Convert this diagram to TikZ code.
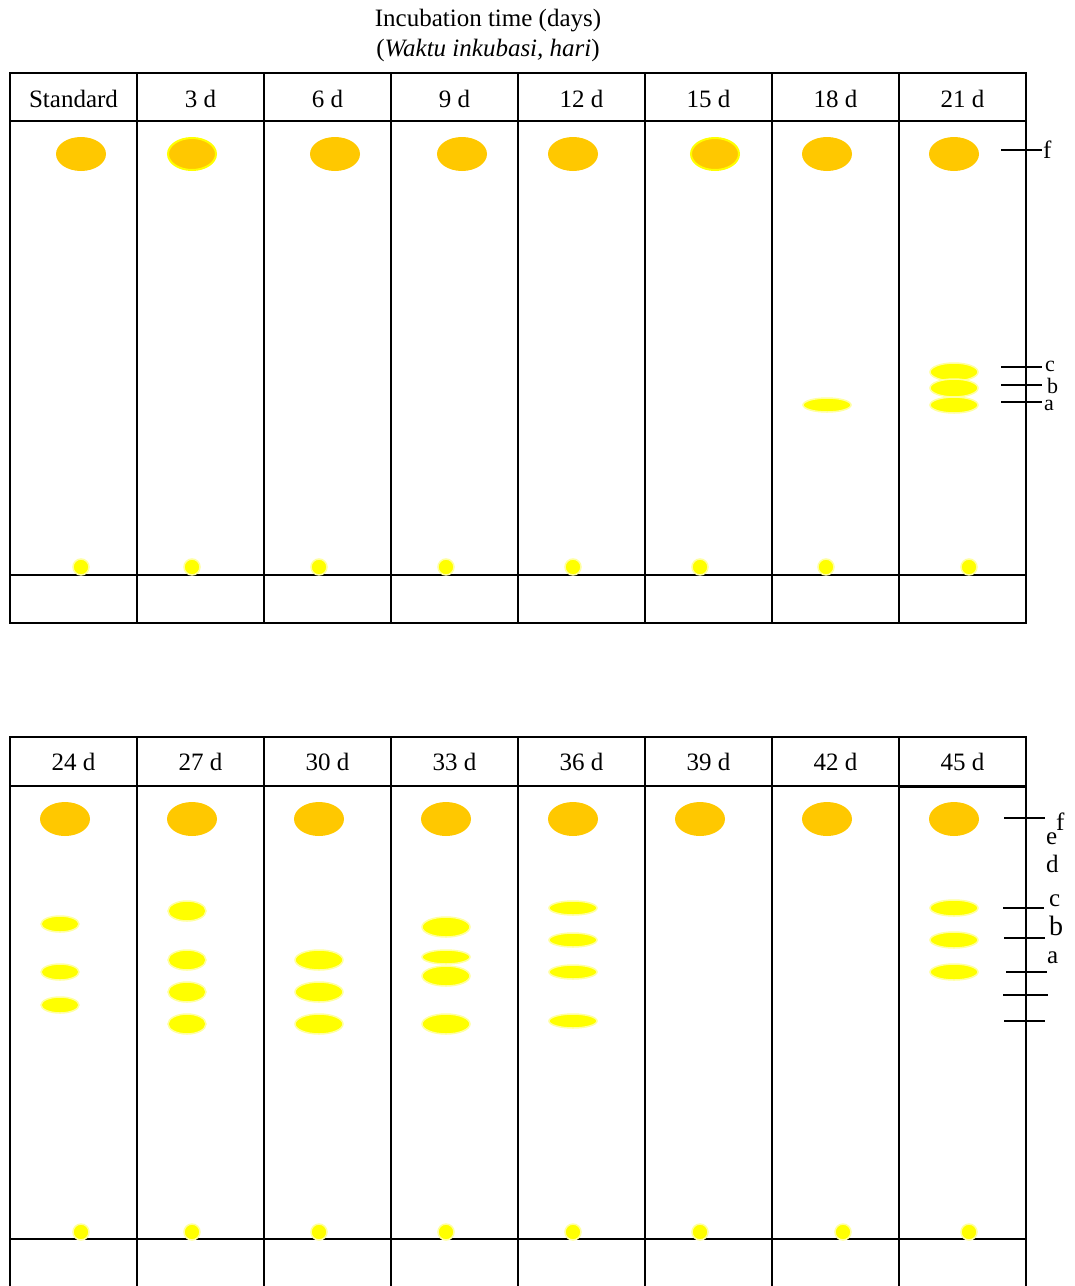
\documentclass[tikz,border=0pt]{standalone}
\usepackage{fontspec}
\setmainfont{Liberation Serif}
\usetikzlibrary{positioning}
\definecolor{spotorange}{RGB}{255,200,0}
\definecolor{spotyellow}{RGB}{255,255,0}
\definecolor{paleyellow}{RGB}{255,255,160}
\begin{document}
\begin{tikzpicture}[x=1pt,y=-1pt,font=\fontsize{25}{30}\selectfont]
\tikzstyle{grid}=[draw=black,line width=2pt]
\tikzstyle{hdr}=[inner sep=0pt,anchor=base]
\tikzstyle{rf}=[fill=spotorange]
\tikzstyle{rfrim}=[fill=spotorange,draw=spotyellow,line width=2pt]
\tikzstyle{band}=[fill=spotyellow,draw=paleyellow,line width=1.5pt]
\tikzstyle{dot}=[fill=spotyellow,draw=paleyellow,line width=1.5pt]
\tikzstyle{tick}=[line width=1.5pt]
\tikzstyle{lbl}=[inner sep=0pt,anchor=base west]
\tikzstyle{small lbl}=[lbl,font=\fontsize{22}{22}\selectfont]
\useasboundingbox (0,0) rectangle (1075,1286);

% title
\node[inner sep=0pt,align=center] (title) at (488,35) {Incubation time (days)\\(\textit{Waktu inkubasi, hari})};

% upper plate
\draw[grid] (10,73) rectangle (1026,623);
\draw[grid] (10,121) -- (1026,121);
\draw[grid] (10,575) -- (1026,575);
\foreach \i in {1,...,7} \draw[grid] (10+127*\i,73) -- (10+127*\i,623);
\foreach \i/\lab in {0/Standard,1/3 d,2/6 d,3/9 d,4/12 d,5/15 d,6/18 d,7/21 d}
  \node[hdr] (u\i) at (73.5+127*\i,107) {\lab};

% lower plate
\draw[grid] (10,1286) -- (10,737) -- (1026,737) -- (1026,1286);
\draw[grid] (10,786) -- (1026,786);
\draw[line width=3pt] (899,786) -- (1026,786);
\draw[grid] (10,1239) -- (1026,1239);
\foreach \i in {1,...,7} \draw[grid] (10+127*\i,737) -- (10+127*\i,1286);
\foreach \i/\lab in {0/24 d,1/27 d,2/30 d,3/33 d,4/36 d,5/39 d,6/42 d,7/45 d}
  \node[hdr] (l\i) at (73.5+127*\i,770) {\lab};

% solvent front spots, upper
\foreach \x in {81,335,462,573,827,954} \path[rf] (\x,154) ellipse [x radius=25,y radius=17];
\foreach \x in {192,715} \path[rfrim] (\x,154) ellipse [x radius=24,y radius=16];
% origin, upper
\foreach \x in {81,192,319,446,573,700,826,969} \path[dot] (\x,567) circle [radius=8];
% bands, upper
\path[band] (827,405) ellipse [x radius=24,y radius=7];
\path[band] (954,372) ellipse [x radius=24,y radius=9];
\path[band] (954,388) ellipse [x radius=24,y radius=9];
\path[band] (954,405) ellipse [x radius=24,y radius=8];

% solvent front spots, lower
\foreach \x in {65,192,319,446,573,700,827,954} \path[rf] (\x,819) ellipse [x radius=25,y radius=17];
% origin, lower
\foreach \x in {81,192,319,446,573,700,843,969} \path[dot] (\x,1232) circle [radius=8];
% bands, lower
\foreach \y in {924,972,1005} \path[band] (60,\y) ellipse [x radius=19,y radius=8];
\foreach \y in {911,960,992,1024} \path[band] (187,\y) ellipse [x radius=19,y radius=10];
\foreach \y in {960,992,1024} \path[band] (319,\y) ellipse [x radius=24,y radius=10];
\foreach \y in {927,976,1024} \path[band] (446,\y) ellipse [x radius=24,y radius=10];
\path[band] (446,957) ellipse [x radius=24,y radius=7];
\foreach \y in {908,940,972,1021} \path[band] (573,\y) ellipse [x radius=24,y radius=7];
\foreach \y in {908,940,972} \path[band] (954,\y) ellipse [x radius=24,y radius=8];

% Rf marks, upper
\draw[tick] (1001,150) -- (1042,150);
\node[lbl] (uf) at (1043,158) {f};
\draw[tick] (1001,367) -- (1042,367);
\draw[tick] (1001,385) -- (1042,385);
\draw[tick] (1001,402) -- (1042,402);
\node[small lbl] (uc) at (1045,371) {c};
\node[small lbl] (ub) at (1047,393) {b};
\node[small lbl] (ua) at (1044,410) {a};

% Rf marks, lower
\foreach \y/\a/\b in {818/1004/1045,908/1003/1044,938/1004/1045,972/1006/1047,995/1003/1048,1021/1004/1045}
  \draw[tick] (\a,\y) -- (\b,\y);
\node[lbl] (lf) at (1056,830) {f};
\node[lbl] (le) at (1046,844) {e};
\node[lbl] (ld) at (1046,872) {d};
\node[lbl] (lc) at (1049,906) {c};
\node[lbl,font=\fontsize{28}{30}\selectfont] (lb) at (1049,935) {b};
\node[lbl] (la) at (1047,963) {a};
\end{tikzpicture}
\end{document}
